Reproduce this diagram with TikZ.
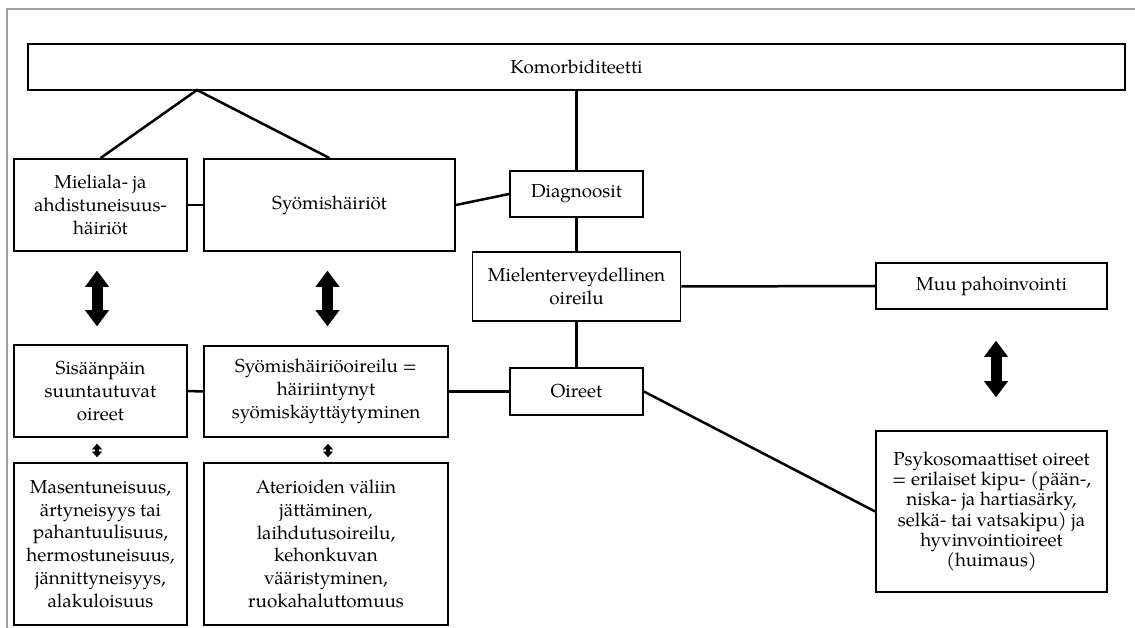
\documentclass[tikz,border=0pt]{standalone}
\usepackage{fontspec}
\setmainfont{texgyrepagella}[Extension=.otf, UprightFont=*-regular, BoldFont=*-bold, ItalicFont=*-italic, BoldItalicFont=*-bolditalic]
\usetikzlibrary{arrows.meta}
\definecolor{framegray}{HTML}{A0A0A0}
\begin{document}
\begin{tikzpicture}[x=1pt, y=-1pt,
  box/.style={draw, line width=1.8pt, align=center, inner sep=0pt,
              font=\fontsize{18.8}{22.7}\selectfont},
  conn/.style={line width=2.5pt},
  bigarrow/.style={line width=11pt,
     {Triangle[length=16pt,width=24pt,line width=0.01pt]}-{Triangle[length=16pt,width=24pt,line width=0.01pt]}},
  smallarrow/.style={line width=4pt,
     {Triangle[length=5.5pt,width=10pt,line width=0.01pt]}-{Triangle[length=5.5pt,width=10pt,line width=0.01pt]}}
]
\useasboundingbox (0,0) rectangle (1135,628);
\draw[framegray, line width=1.5pt] (1135,9) -- (7,9) -- (7,628);

% nodes
\node[box, minimum width=1097pt, minimum height=46pt] (komo) at (576.5,67) {Komorbiditeetti};
\node[box, minimum width=173pt, minimum height=92pt] (mieliala) at (100.5,205) {Mieliala- ja\\ahdistuneisuus-\\häiriöt};
\node[box, minimum width=251pt, minimum height=92pt] (syom) at (329.5,205) {Syömishäiriöt};
\node[box, minimum width=133pt, minimum height=46pt] (diag) at (576.5,194) {Diagnoosit};
\node[box, minimum width=208pt, minimum height=69pt] (mielent) at (576.5,286.5) {Mielenterveydellinen\\oireilu};
\node[box, minimum width=231pt, minimum height=46pt] (muu) at (991.5,286) {Muu pahoinvointi};
\node[box, minimum width=133pt, minimum height=47pt] (oireet) at (576.5,391.5) {Oireet};
\node[box, minimum width=173pt, minimum height=92pt] (sisaan) at (100.5,391) {Sisäänpäin\\suuntautuvat\\oireet};
\node[box, minimum width=244pt, minimum height=91pt] (syomo) at (326,391.5) {Syömishäiriöoireilu =\\häiriintynyt\\syömiskäyttäytyminen};
\node[box, minimum width=173pt, minimum height=162pt] (masen) at (100.5,544) {Masentuneisuus,\\ärtyneisyys tai\\pahantuulisuus,\\hermostuneisuus,\\jännittyneisyys,\\alakuloisuus};
\node[box, minimum width=244pt, minimum height=162pt] (ater) at (326,544) {Aterioiden väliin\\jättäminen,\\laihdutusoireilu,\\kehonkuvan\\vääristyminen,\\ruokahaluttomuus};
\node[box, minimum width=231pt, minimum height=161pt, font=\fontsize{18.8}{20.3}\selectfont] (psyko) at (991.5,511.5) {Psykosomaattiset oireet\\= erilaiset kipu- (pään-,\\niska- ja hartiasärky,\\selkä- tai vatsakipu) ja\\hyvinvointioireet\\(huimaus)};

\coordinate (apex) at (197,90);

% connectors
\draw[conn] (mieliala.north) -- (apex) -- (syom.north);
\draw[conn] (komo.south) -- (diag.north);
\draw[conn] (mieliala.east) -- (syom.west);
\draw[conn] (syom.east) -- (diag.west);
\draw[conn] (diag.south) -- (mielent.north);
\draw[conn] (mielent.south) -- (oireet.north);
\draw[conn] (mielent.east) -- (muu.west);
\draw[conn] (sisaan.east) -- (syomo.west);
\draw[conn] (syomo.east) -- (oireet.west);
\draw[conn] (oireet.east) -- (psyko.west);

% double arrows
\draw[bigarrow, shorten <=19pt, shorten >=18pt] ([xshift=-3.5pt]mieliala.south) -- ([xshift=-3.5pt]sisaan.north);
\draw[bigarrow, shorten <=19pt, shorten >=19pt] ([xshift=-2pt]syom.south) -- ([xshift=-2pt]syom.south |- syomo.north);
\draw[bigarrow, shorten <=31pt, shorten >=33pt] ([xshift=4.5pt]muu.south) -- ([xshift=4.5pt]psyko.north);
\draw[smallarrow, shorten <=6pt, shorten >=5pt] ([xshift=-3.5pt]sisaan.south) -- ([xshift=-3.5pt]masen.north);
\draw[smallarrow, shorten <=6pt, shorten >=5pt] ([xshift=2pt]syomo.south) -- ([xshift=2pt]ater.north);
\end{tikzpicture}
\end{document}
